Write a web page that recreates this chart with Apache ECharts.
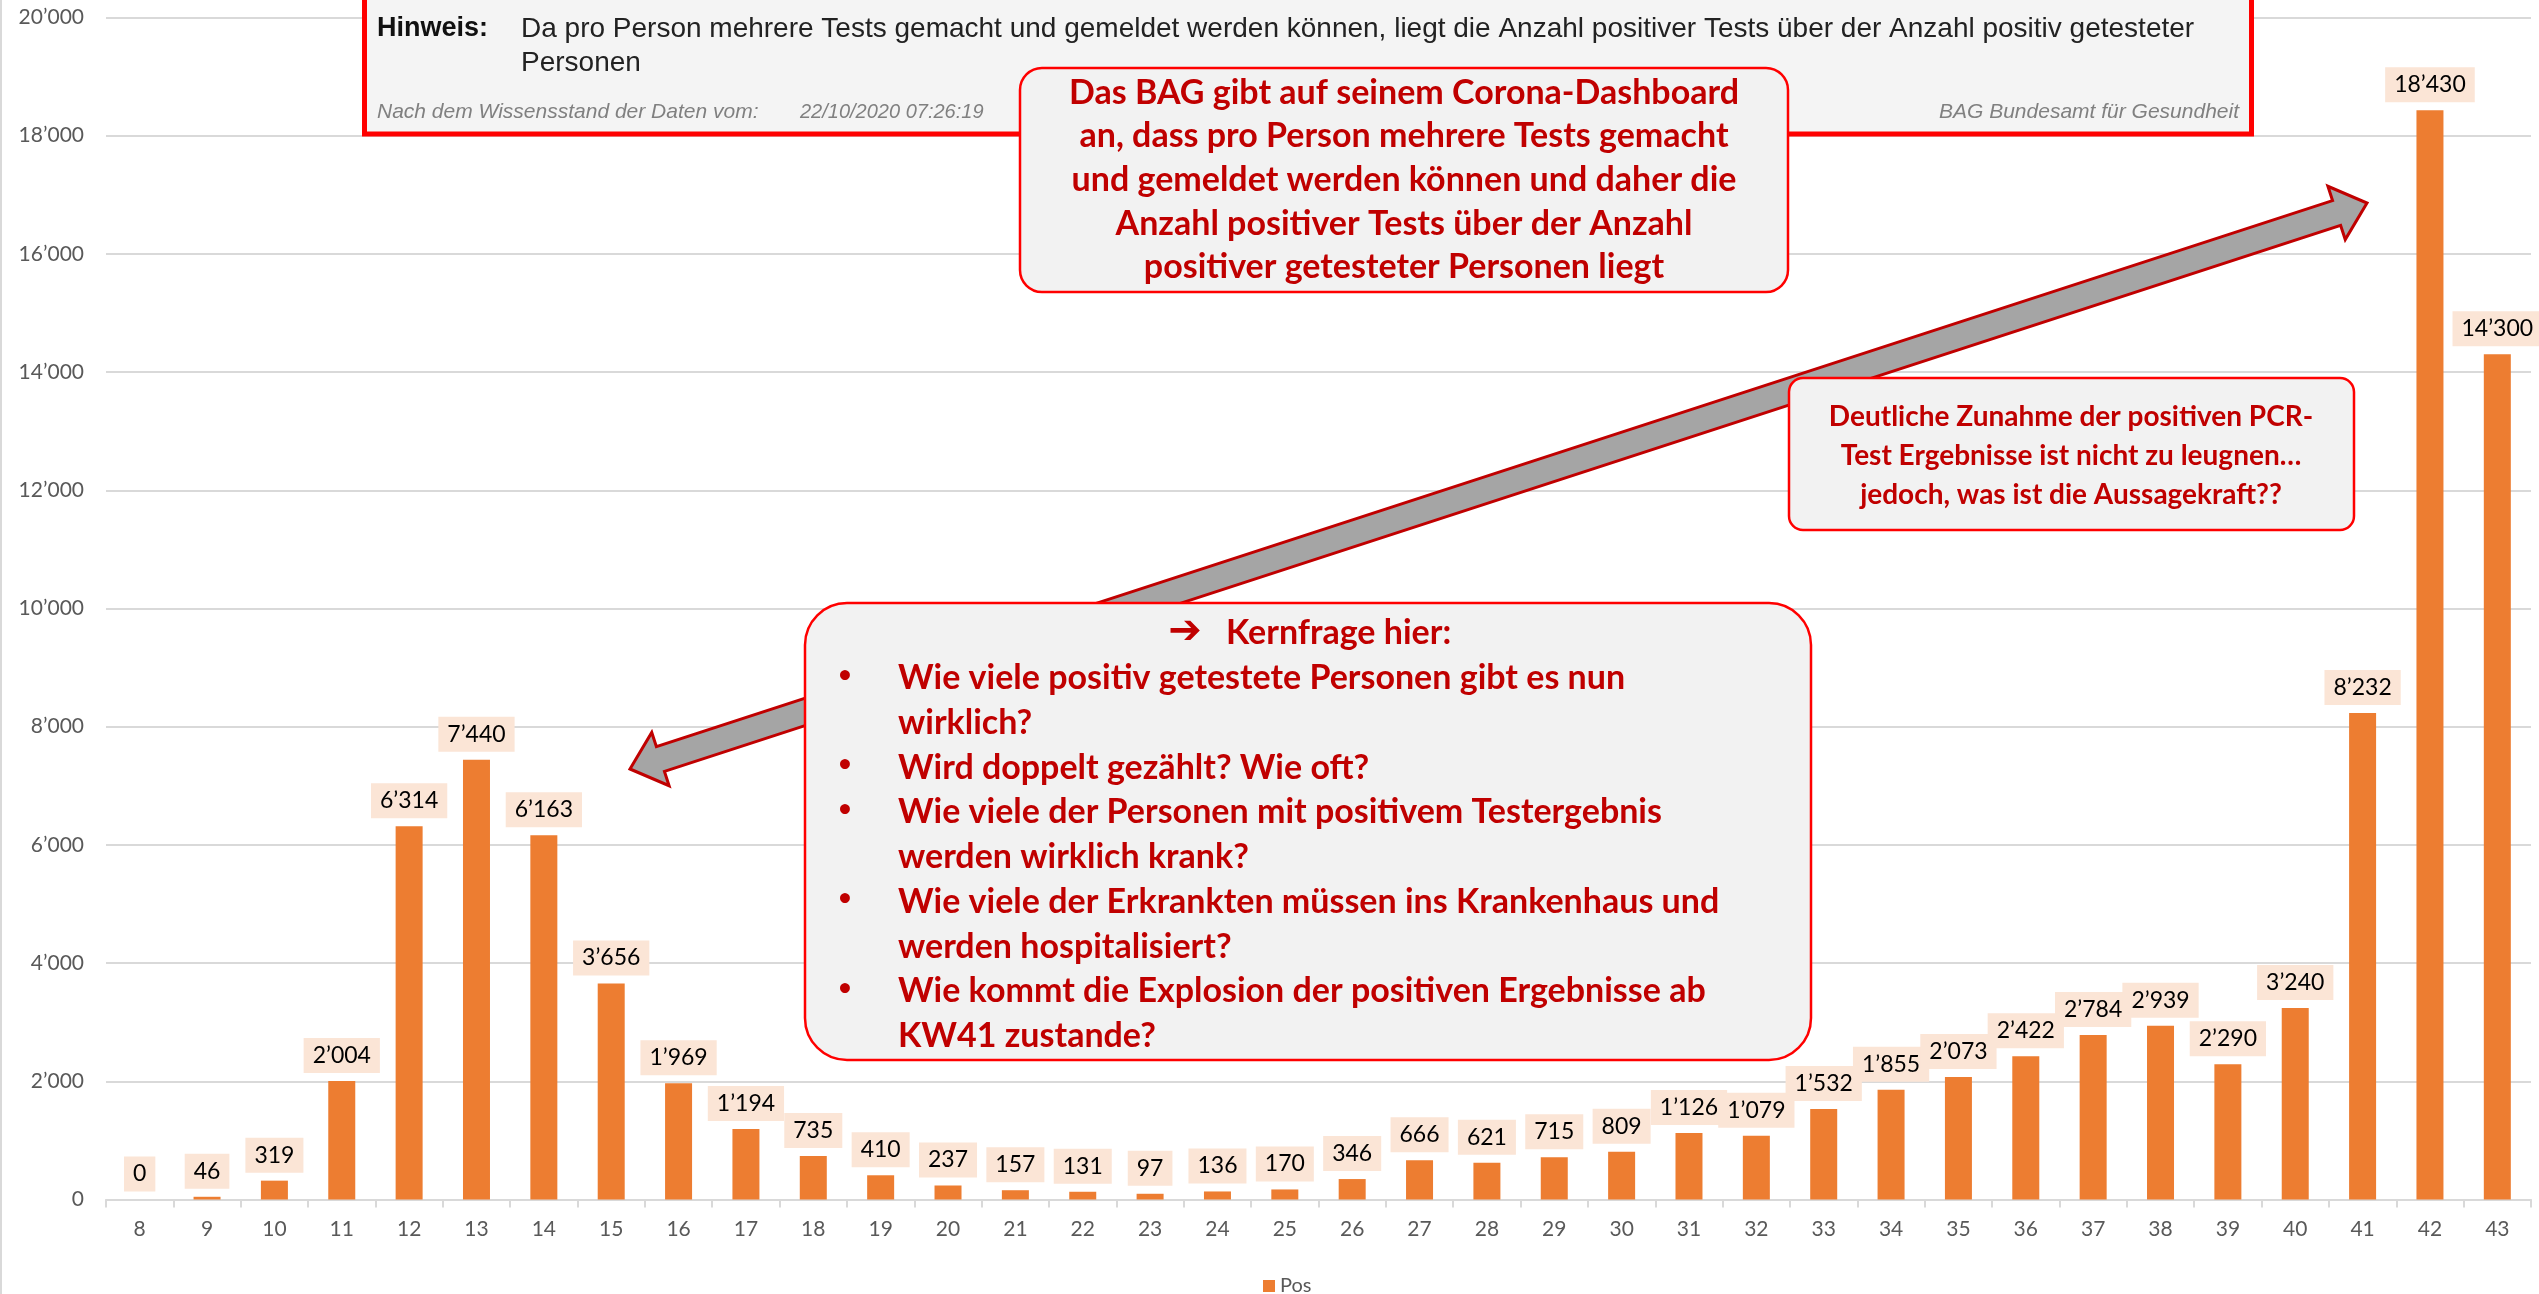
<!DOCTYPE html>
<html>
<head>
<meta charset="utf-8">
<script src="https://cdn.jsdelivr.net/npm/echarts@6/dist/echarts.min.js"></script>
<style>
  html, body { margin: 0; padding: 0; background: #fff; }
  #chart { width: 2539px; height: 1294px; }
</style>
</head>
<body>
<div id="chart"></div>
<script>
// ------------------------------
// DATA
// ------------------------------
const weeks = ['8', '9', '10', '11', '12', '13', '14', '15', '16', '17', '18', '19', '20', '21', '22', '23', '24', '25',
  '26', '27', '28', '29', '30', '31', '32', '33', '34', '35', '36', '37', '38', '39', '40', '41', '42', '43'];
const positives = [0, 46, 319, 2004, 6314, 7440, 6163, 3656, 1969, 1194, 735, 410, 237, 157, 131, 97, 136, 170,
  346, 666, 621, 715, 809, 1126, 1079, 1532, 1855, 2073, 2422, 2784, 2939, 2290, 3240, 8232, 18430, 14300];
const seriesName = 'Pos';
const yMin = 0, yMax = 20000, yStep = 2000;

const hinweisLines = [
  'Da pro Person mehrere Tests gemacht und gemeldet werden können, liegt die Anzahl positiver Tests über der Anzahl positiv getesteter',
  'Personen'
];
const bagLines = [
  'Das BAG gibt auf seinem Corona-Dashboard',
  'an, dass pro Person mehrere Tests gemacht',
  'und gemeldet werden können und daher die',
  'Anzahl positiver Tests über der Anzahl',
  'positiver getesteter Personen liegt'
];
const kernLines = [
  'Wie viele positiv getestete Personen gibt es nun',
  'wirklich?',
  'Wird doppelt gezählt? Wie oft?',
  'Wie viele der Personen mit positivem Testergebnis',
  'werden wirklich krank?',
  'Wie viele der Erkrankten müssen ins Krankenhaus und',
  'werden hospitalisiert?',
  'Wie kommt die Explosion der positiven Ergebnisse ab',
  'KW41 zustande?'
];
const kernBullets = ['•', '', '•', '•', '', '•', '', '•', ''];
const deutlichLines = [
  'Deutliche Zunahme der positiven PCR-',
  'Test Ergebnisse ist nicht zu leugnen…',
  'jedoch, was ist die Aussagekraft??'
];

// ------------------------------
// HELPERS
// ------------------------------
let fmt = v => String(v).replace(/\B(?=(\d{3})+(?!\d))/g, '’');

const RED = '#C00000';
const CALLOUT_FONT = 'Lato';

let textEl = (text, x, y, font, fill, align, vAlign, lineHeight, z) => ({
  type: 'text', z: z || 30,
  style: {
    text: text, x: x, y: y, font: font, fill: fill,
    align: align, textAlign: align,
    verticalAlign: vAlign, textVerticalAlign: vAlign,
    lineHeight: lineHeight
  }
});

// double headed block arrow between two points
let blockArrow = (x1, y1, x2, y2, shaftHalf, headHalf, headLen) => {
  let dx = x2 - x1, dy = y2 - y1;
  let len = Math.sqrt(dx * dx + dy * dy);
  let ux = dx / len, uy = dy / len;
  let nx = -uy, ny = ux;
  let p = (t, s) => [x1 + ux * t + nx * s, y1 + uy * t + ny * s];
  return [
    p(0, 0),
    p(headLen, headHalf),
    p(headLen, shaftHalf),
    p(len - headLen, shaftHalf),
    p(len - headLen, headHalf),
    p(len, 0),
    p(len - headLen, -headHalf),
    p(len - headLen, -shaftHalf),
    p(headLen, -shaftHalf),
    p(headLen, -headHalf)
  ];
};

// ------------------------------
// ANNOTATIONS
// ------------------------------
let graphics = [
  // left frame line
  { type: 'line', z: 5, shape: { x1: 1, y1: 0, x2: 1, y2: 1294 }, style: { stroke: '#D9D9D9', lineWidth: 2 } },

  // screenshot of BAG hint
  { type: 'rect', z: 20, shape: { x: 364.5, y: -20, width: 1887, height: 154 },
    style: { fill: '#F4F4F4', stroke: '#FF0000', lineWidth: 5 } },
  textEl('Hinweis:', 377, 29, 'bold 27px "Liberation Sans"', '#111', 'left', 'middle', null, 21),
  textEl(hinweisLines.join('\n'), 521, 12, '28px "Liberation Sans"', '#222', 'left', 'top', 34, 21),
  textEl('Nach dem Wissensstand der Daten vom:', 377, 112, 'italic 21px "Liberation Sans"', '#808080', 'left', 'middle', null, 21),
  textEl('22/10/2020 07:26:19', 800, 112, 'italic 20px "Liberation Sans"', '#808080', 'left', 'middle', null, 21),
  textEl('BAG Bundesamt für Gesundheit', 2239, 112, 'italic 21px "Liberation Sans"', '#808080', 'right', 'middle', null, 21),

  // grey double arrow
  { type: 'polygon', z: 25, shape: { points: blockArrow(630, 769, 2367, 203, 13, 28, 32) },
    style: { fill: '#A5A5A5', stroke: RED, lineWidth: 3, lineJoin: 'miter' } },

  // BAG callout
  { type: 'rect', z: 30, shape: { x: 1020, y: 68, width: 768, height: 224, r: 22 },
    style: { fill: '#F2F2F2', stroke: '#FF0000', lineWidth: 2.5 } },
  textEl(bagLines.join('\n'), 1404, 180, 'bold 34px ' + CALLOUT_FONT, RED, 'center', 'middle', 43.6, 31),

  // Kernfrage callout
  { type: 'rect', z: 30, shape: { x: 805, y: 603, width: 1006, height: 457, r: 42 },
    style: { fill: '#F2F2F2', stroke: '#FF0000', lineWidth: 2.5 } },
  textEl('➔', 1185, 633, 'bold 40px "DejaVu Sans"', RED, 'center', 'middle', null, 31),
  textEl('Kernfrage hier:', 1226, 633, 'bold 34px ' + CALLOUT_FONT, RED, 'left', 'middle', null, 31),
  textEl(kernBullets.join('\n'), 845, 656, 'bold 28px "DejaVu Sans"', RED, 'center', 'top', 44.7, 31),
  textEl(kernLines.join('\n'), 898, 656, 'bold 34px ' + CALLOUT_FONT, RED, 'left', 'top', 44.7, 31),

  // Deutliche Zunahme callout
  { type: 'rect', z: 30, shape: { x: 1789, y: 378, width: 565, height: 152, r: 14 },
    style: { fill: '#F2F2F2', stroke: '#FF0000', lineWidth: 2.5 } },
  textEl(deutlichLines.join('\n'), 2071, 456, 'bold 28px ' + CALLOUT_FONT, RED, 'center', 'middle', 39, 31)
];

// ------------------------------
// CHART
// ------------------------------
let chart = echarts.init(document.getElementById('chart'), null, { renderer: 'canvas' });

chart.setOption({
  animation: false,
  backgroundColor: '#fff',
  textStyle: { fontFamily: 'Lato' },
  grid: { left: 106, right: 8, top: 17.5, bottom: 94.5, containLabel: false },
  legend: {
    data: [seriesName],
    left: 1258, top: 1271,
    icon: 'rect', itemWidth: 12, itemHeight: 12, itemGap: 8,
    textStyle: { fontSize: 20, color: '#595959', fontFamily: 'Lato' }
  },
  xAxis: {
    type: 'category',
    data: weeks,
    axisLine: { lineStyle: { color: '#D9D9D9', width: 2 } },
    axisTick: { show: true, length: 8, lineStyle: { color: '#D9D9D9', width: 2 } },
    axisLabel: { color: '#595959', fontSize: 21, margin: 19, fontFamily: 'Lato' }
  },
  yAxis: {
    type: 'value',
    min: yMin, max: yMax, interval: yStep,
    axisLine: { show: false },
    axisTick: { show: false },
    splitLine: { lineStyle: { color: '#D9D9D9', width: 2 } },
    axisLabel: { color: '#595959', fontSize: 21, margin: 22, fontFamily: 'Lato', formatter: v => fmt(v) }
  },
  series: [{
    name: seriesName,
    type: 'bar',
    data: positives,
    barWidth: 27,
    itemStyle: { color: '#ED7D31' },
    label: {
      show: true,
      position: 'top',
      distance: 8,
      formatter: p => fmt(p.value),
      color: '#000',
      fontSize: 23,
      fontFamily: 'Lato',
      backgroundColor: '#FBE5D6',
      padding: [6, 9, 6, 9]
    }
  }],
  graphic: { elements: graphics }
});
</script>
</body>
</html>
